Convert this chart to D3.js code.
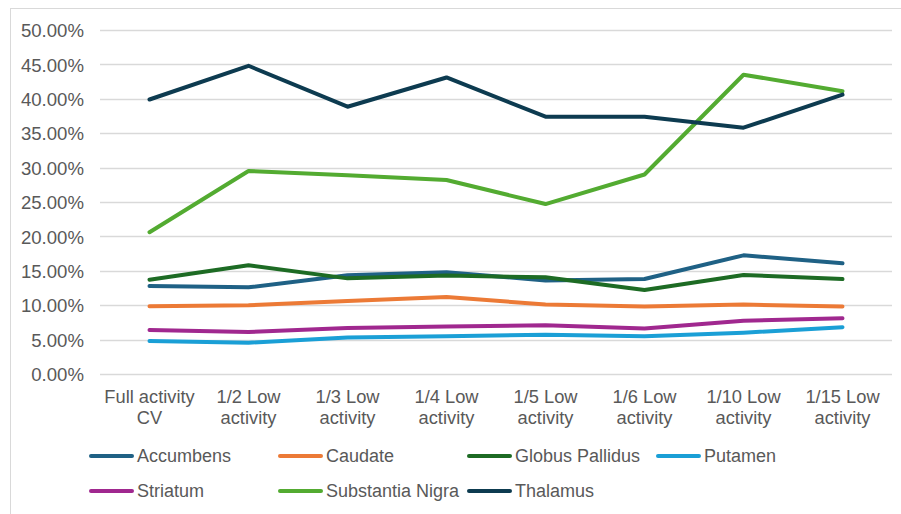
<!DOCTYPE html>
<html>
<head>
<meta charset="utf-8">
<script src="https://cdn.jsdelivr.net/npm/d3@7/dist/d3.min.js"></script>
<style>
  html, body { margin: 0; padding: 0; background: #fff; }
  svg { display: block; font-family: "Liberation Sans", Arial, sans-serif; }
</style>
</head>
<body>
<svg id="chart" width="901" height="514"></svg>
<script>
// Coefficient of variation per brain region across activity levels
const categories = [
  ["Full activity", "CV"],
  ["1/2 Low", "activity"],
  ["1/3 Low", "activity"],
  ["1/4 Low", "activity"],
  ["1/5 Low", "activity"],
  ["1/6 Low", "activity"],
  ["1/10 Low", "activity"],
  ["1/15 Low", "activity"]
];

const accumbens       = [0.128, 0.126, 0.1435, 0.148, 0.136, 0.138, 0.1725, 0.161];
const caudate         = [0.0985, 0.0998, 0.106, 0.112, 0.101, 0.098, 0.101, 0.098];
const globusPallidus  = [0.137, 0.158, 0.139, 0.143, 0.1405, 0.122, 0.144, 0.138];
const putamen         = [0.048, 0.0455, 0.053, 0.055, 0.057, 0.055, 0.060, 0.068];
const striatum        = [0.064, 0.061, 0.067, 0.069, 0.071, 0.066, 0.0775, 0.081];
const substantiaNigra = [0.206, 0.295, 0.289, 0.282, 0.247, 0.290, 0.435, 0.411];
const thalamus        = [0.399, 0.448, 0.3885, 0.431, 0.374, 0.374, 0.358, 0.406];

const yTicks = [0, 0.05, 0.10, 0.15, 0.20, 0.25, 0.30, 0.35, 0.40, 0.45, 0.50];

const seriesNames = ["Accumbens", "Caudate", "Globus Pallidus", "Putamen",
                     "Striatum", "Substantia Nigra", "Thalamus"];
const seriesValues = [accumbens, caudate, globusPallidus, putamen,
                      striatum, substantiaNigra, thalamus];
const seriesColors = ["#1f6185", "#ec7a36", "#1d6b24", "#1a9fd6",
                      "#a0288f", "#53ab31", "#0d3b50"];

const svg = d3.select("#chart");

// chart frame
svg.append("rect")
  .attr("x", 10.5).attr("y", 8.5)
  .attr("width", 1000).attr("height", 1000)
  .attr("fill", "none").attr("stroke", "#d9d9d9").attr("stroke-width", 1);

const x = d3.scaleBand()
  .domain(d3.range(categories.length))
  .range([100, 892]);

const y = d3.scaleLinear()
  .domain([0, 0.5])
  .range([374, 30]);

// gridlines
svg.append("g")
  .selectAll("line")
  .data(yTicks)
  .join("line")
  .attr("x1", 100).attr("x2", 892)
  .attr("y1", d => Math.round(y(d)) + 0.5)
  .attr("y2", d => Math.round(y(d)) + 0.5)
  .attr("stroke", "#d9d9d9").attr("stroke-width", 1.3);

// y axis labels
const yAxis = d3.axisLeft(y)
  .tickValues(yTicks)
  .tickFormat(d3.format(".2%"))
  .tickSize(0)
  .tickPadding(0);

const yg = svg.append("g")
  .attr("transform", "translate(84,0)")
  .call(yAxis);
yg.select(".domain").remove();
yg.selectAll("text")
  .attr("font-size", 18.6)
  .attr("font-family", "Liberation Sans, Arial, sans-serif")
  .attr("fill", "#595959")
  .attr("dy", "0.36em");

// x axis labels (two lines each)
const xAxis = d3.axisBottom(x).tickSize(0).tickFormat("");
const xg = svg.append("g")
  .attr("transform", "translate(0,374)")
  .call(xAxis);
xg.select(".domain").remove();
xg.selectAll(".tick").each(function(i) {
  const t = d3.select(this).append("text")
    .attr("text-anchor", "middle")
    .attr("font-size", 18.3)
    .attr("font-family", "Liberation Sans, Arial, sans-serif")
    .attr("fill", "#595959");
  t.append("tspan").attr("x", 0).attr("y", 29).text(categories[i][0]);
  t.append("tspan").attr("x", 0).attr("y", 50).text(categories[i][1]);
});

// series lines
const line = d3.line()
  .x((d, i) => x(i) + x.bandwidth() / 2)
  .y(d => y(d));

svg.append("g")
  .selectAll("path")
  .data(seriesValues)
  .join("path")
  .attr("d", d => line(d))
  .attr("fill", "none")
  .attr("stroke", (d, i) => seriesColors[i])
  .attr("stroke-width", 4)
  .attr("stroke-linejoin", "round")
  .attr("stroke-linecap", "round");

// legend
const legendCols = [91, 280, 469, 658];
const legendRows = [456, 491];
const legend = svg.append("g")
  .selectAll("g")
  .data(seriesNames)
  .join("g")
  .attr("transform", (d, i) =>
    `translate(${legendCols[i % 4]},${legendRows[Math.floor(i / 4)]})`);

legend.append("line")
  .attr("x1", 0).attr("x2", 41)
  .attr("y1", 0).attr("y2", 0)
  .attr("stroke", (d, i) => seriesColors[i])
  .attr("stroke-width", 4)
  .attr("stroke-linecap", "round");

legend.append("text")
  .attr("x", 46).attr("y", 0)
  .attr("dy", "0.35em")
  .attr("font-size", 18)
  .attr("font-family", "Liberation Sans, Arial, sans-serif")
  .attr("fill", "#595959")
  .text(d => d);
</script>
</body>
</html>
